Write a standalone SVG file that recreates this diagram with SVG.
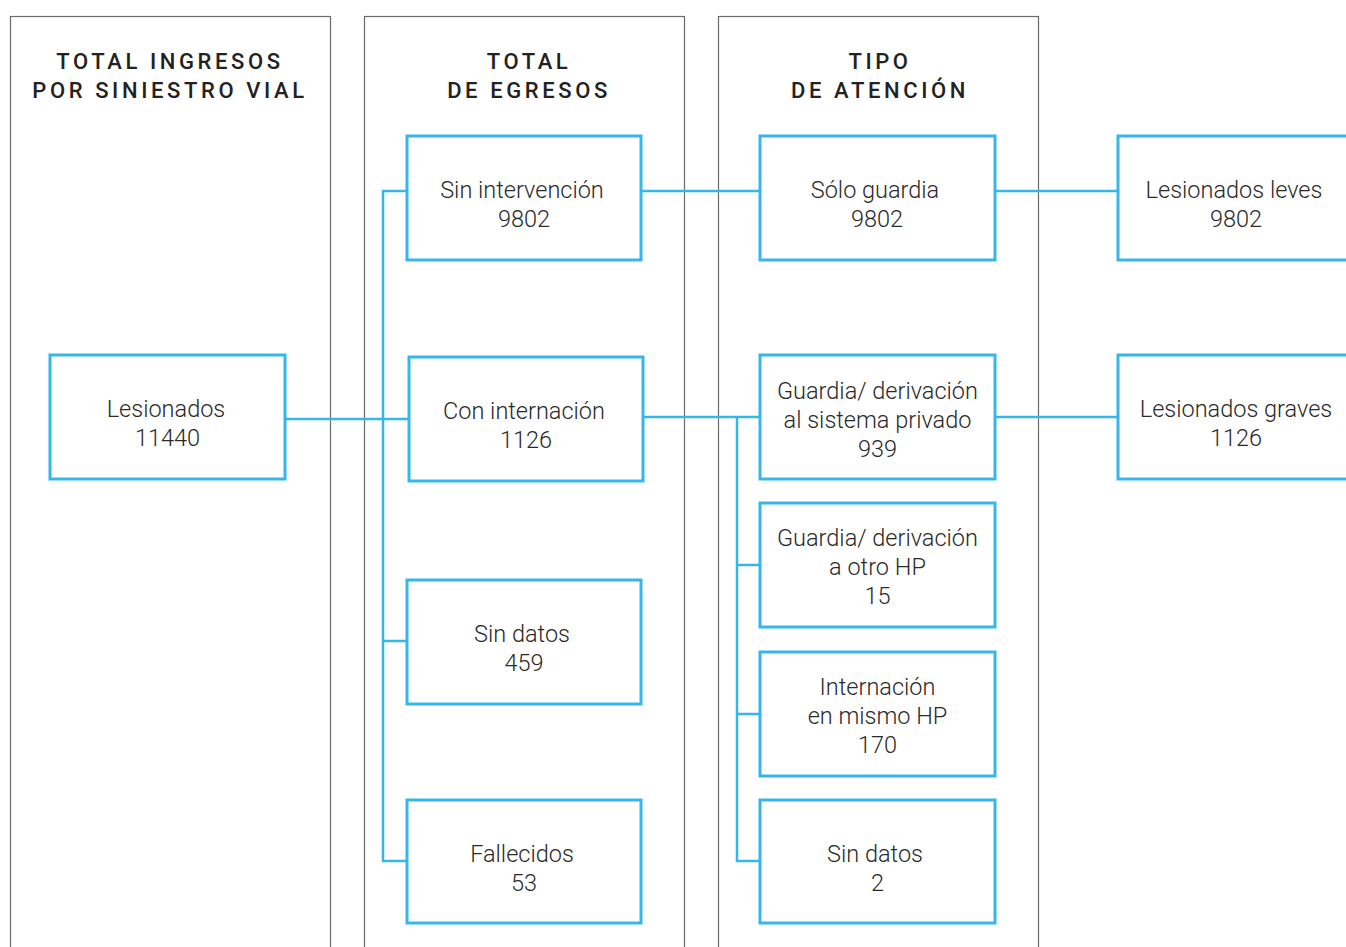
<svg xmlns="http://www.w3.org/2000/svg" width="1346" height="947" viewBox="0 0 1346 947">
<style>
.panel{fill:none;stroke:#6a6a6a;stroke-width:1.2}
.box{fill:#fff;stroke:#36b7ea;stroke-width:3}
.conn{fill:none;stroke:#36b7ea;stroke-width:2.5}
.hd{font-family:Roboto,"Liberation Sans",sans-serif;font-weight:500;font-size:22px;letter-spacing:3.6px;fill:#222;text-anchor:middle}
.t{font-family:Roboto,"Liberation Sans",sans-serif;font-weight:300;font-size:23.5px;fill:#2a2a2a;text-anchor:middle}
</style>
<rect width="1346" height="947" fill="#fff"/>
<g id="panels">
<rect class="panel" x="10.5" y="16.5" width="320" height="960"/>
<rect class="panel" x="364.5" y="16.5" width="320" height="960"/>
<rect class="panel" x="718.5" y="16.5" width="320" height="960"/>
<text class="hd" x="170" y="69">TOTAL INGRESOS</text>
<text class="hd" x="170" y="98">POR SINIESTRO VIAL</text>
<text class="hd" x="529" y="69">TOTAL</text>
<text class="hd" x="529" y="98">DE EGRESOS</text>
<text class="hd" x="880" y="69">TIPO</text>
<text class="hd" x="880" y="98">DE ATENCIÓN</text>
</g>
<g id="connectors">
<path class="conn" d="M285 419 H409"/>
<path class="conn" d="M407 191 H383 V861 H407 M383 641 H407"/>
<path class="conn" d="M641 191 H760"/>
<path class="conn" d="M643 417 H760 M737 417 V861 H760 M737 565 H760 M737 714 H760"/>
<path class="conn" d="M995 191 H1118"/>
<path class="conn" d="M995 417 H1118"/>
</g>
<g id="n-lesionados">
<rect class="box" x="50" y="355" width="235" height="124"/>
<text class="t" x="166" y="417">Lesionados</text>
<text class="t" x="167.5" y="446">11440</text>
</g>
<g id="n-sin-intervencion">
<rect class="box" x="407" y="136" width="234" height="124"/>
<text class="t" x="522" y="198">Sin intervención</text>
<text class="t" x="524" y="227">9802</text>
</g>
<g id="n-con-internacion">
<rect class="box" x="409" y="357" width="234" height="124"/>
<text class="t" x="524" y="419">Con internación</text>
<text class="t" x="526" y="448">1126</text>
</g>
<g id="n-sin-datos">
<rect class="box" x="407" y="580" width="234" height="124"/>
<text class="t" x="522" y="642">Sin datos</text>
<text class="t" x="524" y="671">459</text>
</g>
<g id="n-fallecidos">
<rect class="box" x="407" y="800" width="234" height="123"/>
<text class="t" x="522" y="862">Fallecidos</text>
<text class="t" x="524" y="891">53</text>
</g>
<g id="n-solo-guardia">
<rect class="box" x="760" y="136" width="235" height="124"/>
<text class="t" x="875" y="198">Sólo guardia</text>
<text class="t" x="877" y="227">9802</text>
</g>
<g id="n-guardia-privado">
<rect class="box" x="760" y="355" width="235" height="124"/>
<text class="t" x="877.5" y="399">Guardia/ derivación</text>
<text class="t" x="877.5" y="428">al sistema privado</text>
<text class="t" x="877.5" y="457">939</text>
</g>
<g id="n-guardia-otro">
<rect class="box" x="760" y="503" width="235" height="124"/>
<text class="t" x="877.5" y="546">Guardia/ derivación</text>
<text class="t" x="877.5" y="575">a otro HP</text>
<text class="t" x="877.5" y="604">15</text>
</g>
<g id="n-internacion">
<rect class="box" x="760" y="652" width="235" height="124"/>
<text class="t" x="877.5" y="695">Internación</text>
<text class="t" x="877.5" y="724">en mismo HP</text>
<text class="t" x="877.5" y="753">170</text>
</g>
<g id="n-sin-datos-2">
<rect class="box" x="760" y="800" width="235" height="123"/>
<text class="t" x="875" y="862">Sin datos</text>
<text class="t" x="877.5" y="891">2</text>
</g>
<g id="n-leves">
<rect class="box" x="1118" y="136" width="240" height="124"/>
<text class="t" x="1234" y="198">Lesionados leves</text>
<text class="t" x="1236" y="227">9802</text>
</g>
<g id="n-graves">
<rect class="box" x="1118" y="355" width="240" height="124"/>
<text class="t" x="1236" y="417">Lesionados graves</text>
<text class="t" x="1236" y="446">1126</text>
</g>
</svg>
